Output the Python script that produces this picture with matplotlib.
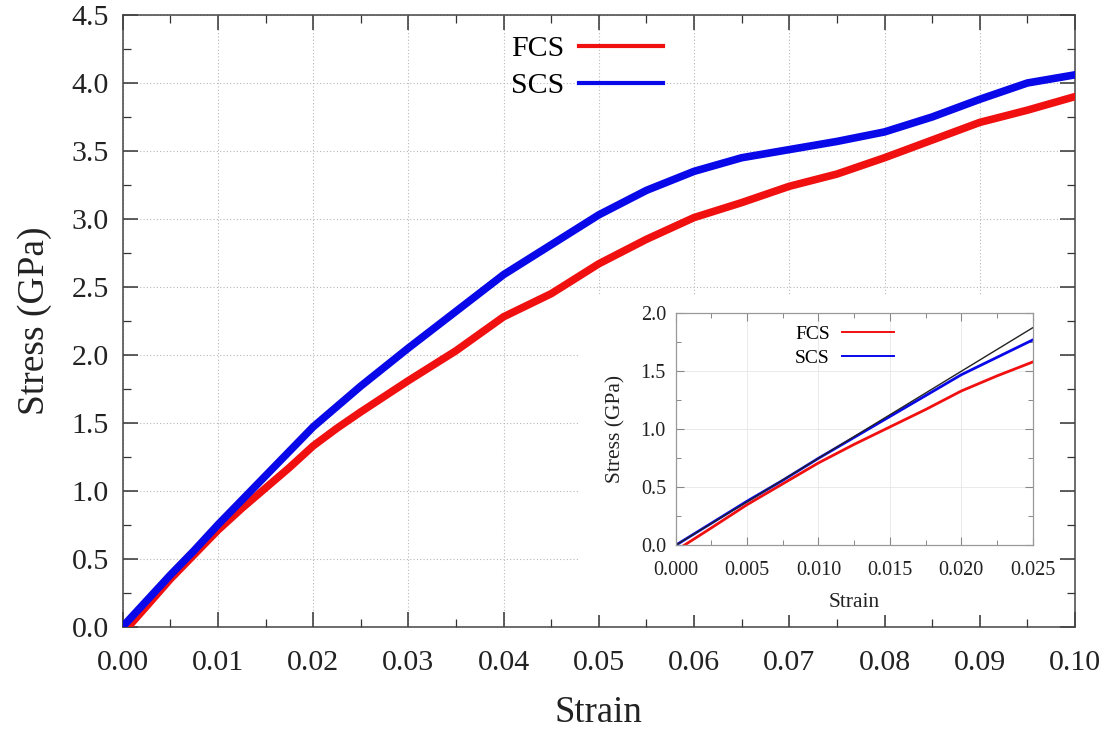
import matplotlib
matplotlib.use("Agg")
import matplotlib.pyplot as plt
from matplotlib.patches import Rectangle
from matplotlib.ticker import MultipleLocator, FormatStrFormatter

# ---------- data ----------
scs_strain = [0.0, 0.0025, 0.005, 0.0075, 0.01, 0.0125, 0.015, 0.0175, 0.02,
              0.0225, 0.025, 0.03, 0.035, 0.04, 0.045, 0.05, 0.055, 0.06,
              0.065, 0.07, 0.075, 0.08, 0.085, 0.09, 0.095, 0.1]
scs_stress = [0.0, 0.19, 0.38, 0.56, 0.75, 0.93, 1.11, 1.29, 1.47,
              1.62, 1.77, 2.05, 2.32, 2.59, 2.81, 3.03, 3.21, 3.35,
              3.45, 3.51, 3.57, 3.64, 3.75, 3.88, 4.0, 4.06]

fcs_strain = [0.0006, 0.0025, 0.005, 0.0075, 0.01, 0.0125, 0.015, 0.0175, 0.02,
              0.0225, 0.025, 0.03, 0.035, 0.04, 0.045, 0.05, 0.055, 0.06,
              0.065, 0.07, 0.075, 0.08, 0.085, 0.09, 0.095, 0.1]
fcs_stress = [0.0, 0.15, 0.35, 0.53, 0.71, 0.87, 1.02, 1.17, 1.33,
              1.46, 1.58, 1.81, 2.03, 2.28, 2.45, 2.67, 2.85, 3.01,
              3.12, 3.24, 3.33, 3.45, 3.58, 3.71, 3.80, 3.90]

fit_strain = [0.0, 0.025]
fit_stress = [0.0, 1.875]

red = "#f01010"
blue = "#0808e8"

plt.rcParams["font.family"] = ["Liberation Serif", "DejaVu Serif"]

fig = plt.figure(figsize=(11.08, 7.33), dpi=100)

# ---------- main axes ----------
ax = fig.add_axes([0.1107, 0.145, 0.8595, 0.8345])
ax.plot(fcs_strain, fcs_stress, color=red, lw=5.5, label="FCS", zorder=3)
ax.plot(scs_strain, scs_stress, color=blue, lw=5.5, label="SCS", zorder=3)
ax.set_xlim(0, 0.1)
ax.set_ylim(0, 4.5)
ax.xaxis.set_major_locator(MultipleLocator(0.01))
ax.xaxis.set_minor_locator(MultipleLocator(0.005))
ax.yaxis.set_major_locator(MultipleLocator(0.5))
ax.yaxis.set_minor_locator(MultipleLocator(0.25))
ax.xaxis.set_major_formatter(FormatStrFormatter("%.2f"))
ax.yaxis.set_major_formatter(FormatStrFormatter("%.1f"))
ax.tick_params(which="both", direction="in", top=True, right=True,
               colors="#333333", labelcolor="#222222")
ax.tick_params(which="major", length=11, width=1.1, labelsize=21.5)
ax.tick_params(which="minor", length=6, width=0.9)
ax.tick_params(axis="x", which="major", pad=17)
ax.tick_params(axis="y", which="major", pad=10)
ax.grid(True, which="major", ls=(0, (1, 2)), lw=0.8, color="#b8b8b8")
for s in ax.spines.values():
    s.set_color("#444444")
    s.set_linewidth(1.1)
ax.set_xlabel("Strain", fontsize=26.5, labelpad=14, color="#222222")
ax.set_ylabel("Stress (GPa)", fontsize=27, labelpad=14, color="#222222")

leg = ax.legend(loc="upper right", bbox_to_anchor=(0.598, 0.952),
                bbox_transform=fig.transFigure, frameon=False,
                markerfirst=False, fontsize=21.5, handlelength=2.8,
                handletextpad=0.5, labelspacing=0.35, borderpad=0,
                borderaxespad=0)
for line in leg.get_lines():
    line.set_linewidth(3)

# white box behind the inset
fig.add_artist(Rectangle((578 / 1108, 1 - 615 / 733), (1060 - 578) / 1108,
                         (615 - 296) / 733, transform=fig.transFigure,
                         facecolor="white", edgecolor="none", zorder=1))

# ---------- inset ----------
ins = fig.add_axes([0.6098, 0.2561, 0.3222, 0.3165], zorder=2)
ins.plot(fcs_strain, fcs_stress, color=red, lw=2, label="FCS")
ins.plot(scs_strain, scs_stress, color=blue, lw=2, label="SCS")
ins.plot(fit_strain, fit_stress, color="#222222", lw=1.0)
ins.set_xlim(0, 0.025)
ins.set_ylim(0, 2.0)
ins.xaxis.set_major_locator(MultipleLocator(0.005))
ins.xaxis.set_minor_locator(MultipleLocator(0.0025))
ins.yaxis.set_major_locator(MultipleLocator(0.5))
ins.yaxis.set_minor_locator(MultipleLocator(0.25))
ins.xaxis.set_major_formatter(FormatStrFormatter("%.3f"))
ins.yaxis.set_major_formatter(FormatStrFormatter("%.1f"))
ins.tick_params(which="both", direction="in", top=True, right=True,
                colors="#888888", labelcolor="#222222")
ins.tick_params(which="major", length=6, width=0.8, labelsize=14.5)
ins.tick_params(which="minor", length=3.5, width=0.7)
ins.tick_params(axis="x", which="major", pad=11)
ins.tick_params(axis="y", which="major", pad=7)
ins.grid(True, which="major", ls="-", lw=0.6, color="#e6e6e6")
for s in ins.spines.values():
    s.set_color("#999999")
    s.set_linewidth(0.9)
ins.set_xlabel("Strain", fontsize=15.5, labelpad=10, color="#222222")
ins.set_ylabel("Stress (GPa)", fontsize=15.5, labelpad=11, color="#222222")

ileg = ins.legend(loc="upper right", bbox_to_anchor=(0.807, 0.5565),
                  bbox_transform=fig.transFigure, frameon=False,
                  markerfirst=False, fontsize=14, handlelength=2.7,
                  handletextpad=0.6, labelspacing=0.35, borderpad=0,
                  borderaxespad=0)
for line in ileg.get_lines():
    line.set_linewidth(1.4)

fig.savefig("out.png", dpi=100)
